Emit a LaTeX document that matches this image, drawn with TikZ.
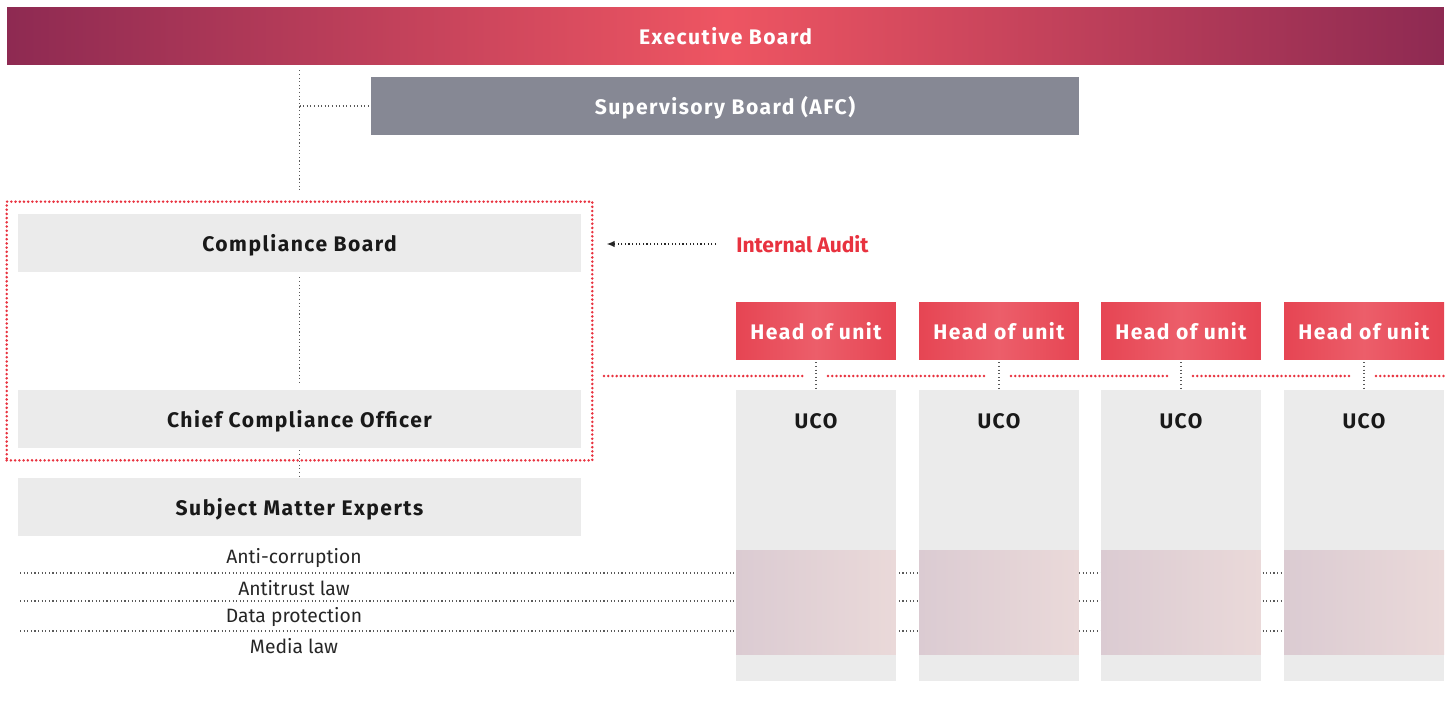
\documentclass[tikz,border=0pt]{standalone}
\usepackage{fontspec}
\setmainfont{Fira Sans}
\newfontfamily\barfont[LetterSpace=7]{Fira Sans}
\usepackage{tikz}
\usetikzlibrary{arrows.meta,fit}

\definecolor{exdark}{HTML}{8E2A52}
\definecolor{excoral}{HTML}{EE5562}
\definecolor{supgray}{HTML}{868894}
\definecolor{boxgray}{HTML}{EBEBEB}
\definecolor{hured}{HTML}{E64553}
\definecolor{hulight}{HTML}{EC5E6A}
\definecolor{auditred}{HTML}{E8323F}
\definecolor{pinkA}{HTML}{DBCBD2}
\definecolor{pinkB}{HTML}{EAD9D9}

\begin{document}
\begin{tikzpicture}[x=0.02cm, y=-0.02cm,
    bar/.style={minimum height=1.16cm, inner sep=0pt, text height=9.5pt, text depth=0pt,
                font=\barfont\bfseries\fontsize{12}{14}\selectfont},
    greybox/.style={bar, fill=boxgray, minimum width=11.26cm, text=black!90},
    head/.style={bar, minimum width=3.2cm, text=white, left color=hured, right color=hured, middle color=hulight},
    col/.style={fill=boxgray, minimum width=3.2cm, minimum height=5.82cm, inner sep=0pt},
    band/.style={left color=pinkA, right color=pinkB, minimum width=3.2cm, minimum height=2.1cm, inner sep=0pt},
    conn/.style={black!65, line width=0.65pt, dash pattern=on 0.65pt off 1.4pt},
    reddots/.style={auditred, line width=1.6pt, line cap=round, dash pattern=on 0pt off 2.4pt},
    topic/.style={font=\fontsize{11}{13}\selectfont, text=black!85, inner sep=0pt}]
  \useasboundingbox (0,0) rectangle (1454,706);

  \node[bar, minimum width=28.74cm, text=white, left color=exdark, right color=exdark,
        middle color=excoral] (exec) at (725.5,36) {Executive Board};
  \node[bar, minimum width=14.16cm, fill=supgray, text=white] (sup) at (725,106) {Supervisory Board (AFC)};

  \node[greybox] (cb)  at (299.5,243) {Compliance Board};
  \node[greybox] (cco) at (299.5,419) {Chief Compliance Officer};
  \node[greybox] (sme) at (299.5,507) {Subject Matter Experts};
  \node[draw, reddots, fit=(cb)(cco), inner xsep=0.22cm, inner ysep=0.24cm] (rb) {};

  \draw[conn, shorten <=0.1cm, shorten >=0.44cm] (exec.south -| cb.north) -- (cb.north);
  \draw[conn] (sup.west -| cb.north) -- (sup.west);
  \draw[conn, shorten <=0.1cm, shorten >=0.1cm] (cb.south) -- (cco.north);
  \draw[conn, shorten <=0.04cm, shorten >=0.04cm] (cco.south) -- (sme.north);

  \node[anchor=west, inner sep=0pt, text=auditred, font=\bfseries\fontsize{12}{14}\selectfont]
    (audit) at (736,244) {Internal Audit};
  \draw[conn, black!85, -{Latex[length=1.6mm, width=1.3mm]}, shorten >=0.26cm]
    ([xshift=-0.4cm]audit.west) -- (audit.west -| rb.east);

  \foreach \t [count=\i] in {Anti-corruption, Antitrust law, Data protection, Media law}
    \node[topic] (tp\i) at (294,529+29.3*\i) {\t};
  \foreach \y in {573,601,631}
    \draw[conn] (20,\y) -- (1444,\y);

  \foreach \a/\b in {604/805, 828/988, 1011/1170, 1193/1353, 1376/1444}
    \draw[reddots] (\a,376) -- (\b,376);

  \foreach \x [count=\i] in {816,999,1181,1364}{
    \node[head] (hu\i) at (\x,331) {Head of unit};
    \node[col] (col\i) at (\x,535.5) {};
    \node[band] (band\i) at (\x,602.5) {};
    \node[bar, minimum height=0pt, text=black!90] (uco\i) at (\x,420) {UCO};
    \draw[conn, shorten <=0.04cm, shorten >=0.04cm] (hu\i.south) -- (col\i.north);}
\end{tikzpicture}
\end{document}
